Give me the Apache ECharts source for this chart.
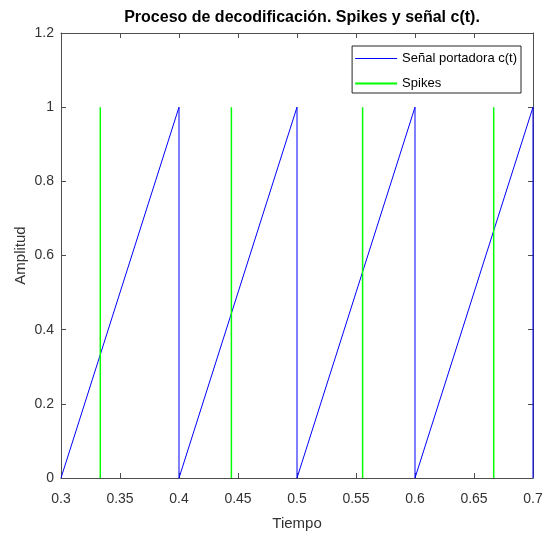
<!DOCTYPE html>
<html>
<head>
<meta charset="utf-8">
<script src="https://cdn.jsdelivr.net/npm/echarts@6/dist/echarts.min.js"></script>
<style>
    html, body {margin: 0; padding: 0; background: #fff;}
    #chart {width: 555px; height: 534px;}
</style>
</head>
<body>
<div id="chart"></div>
<script>
    // señal portadora (diente de sierra)
    const tiempo = [0.3, 0.4, 0.4, 0.5, 0.5, 0.6, 0.6, 0.7, 0.7];
    const portadora = [0, 1, 0, 1, 0, 1, 0, 1, 0];
    // instantes de los spikes y su altura
    const spikeTimes = [0.3333, 0.4444, 0.5556, 0.6667];
    const spikeHeight = 1;
    const xTicks = [0.3, 0.35, 0.4, 0.45, 0.5, 0.55, 0.6, 0.65, 0.7];
    const yTicks = [0, 0.2, 0.4, 0.6, 0.8, 1, 1.2];

    const chart = echarts.init(document.getElementById('chart'));

    const carrierData = tiempo.map((t, i) => [t, portadora[i]]);
    const spikeData = [];
    spikeTimes.forEach(function (t) {
        spikeData.push([t, 0], [t, spikeHeight], [t, '-']);
    });

    const font = 'Liberation Sans, Arial, Helvetica, sans-serif';
    const axisColor = '#4d4d4d';
    const textColor = '#333333';

    const baseX = {
        type: 'value',
        min: xTicks[0],
        max: xTicks[xTicks.length - 1],
        interval: 0.05,
        axisLine: {onZero: false, lineStyle: {color: axisColor, width: 1}},
        axisTick: {inside: true, length: 5, lineStyle: {color: axisColor}},
        splitLine: {show: false}
    };
    const baseY = {
        type: 'value',
        min: yTicks[0],
        max: yTicks[yTicks.length - 1],
        interval: 0.2,
        axisLine: {show: true, onZero: false, lineStyle: {color: axisColor, width: 1}},
        axisTick: {show: true, inside: true, length: 5, lineStyle: {color: axisColor}},
        splitLine: {show: false}
    };

    const option = {
        animation: false,
        textStyle: {fontFamily: font},
        title: {
            text: 'Proceso de decodificación. Spikes y señal c(t).',
            left: 297,
            textAlign: 'center',
            top: 5,
            textStyle: {fontSize: 16, fontWeight: 'bold', color: '#000', fontFamily: font}
        },
        legend: {
            orient: 'vertical',
            right: 34,
            top: 46,
            backgroundColor: '#fff',
            borderColor: '#262626',
            borderWidth: 1,
            borderRadius: 0,
            padding: [6, 4, 3, 3],
            itemGap: 12,
            itemWidth: 42,
            itemHeight: 12,
            textStyle: {fontSize: 13, color: '#000', fontFamily: font},
            data: [
                {name: 'Señal portadora c(t)', icon: 'path://M0,5.5 L42,5.5 L42,6.5 L0,6.5 Z'},
                {name: 'Spikes', icon: 'path://M0,5 L42,5 L42,7 L0,7 Z'}
            ]
        },
        grid: {left: 61, right: 22, top: 33, bottom: 56, outerBoundsMode: 'none'},
        xAxis: [
            Object.assign({}, baseX, {
                position: 'bottom',
                name: 'Tiempo',
                nameLocation: 'middle',
                nameGap: 38,
                nameMoveOverlap: false,
                nameTextStyle: {fontSize: 15, color: textColor},
                axisLabel: {margin: 14, fontSize: 14, color: textColor}
            }),
            Object.assign({}, baseX, {
                position: 'top',
                axisLabel: {show: false}
            })
        ],
        yAxis: [
            Object.assign({}, baseY, {
                position: 'left',
                name: 'Amplitud',
                nameLocation: 'middle',
                nameGap: 33,
                nameMoveOverlap: false,
                nameTextStyle: {fontSize: 15, color: textColor},
                axisLabel: {margin: 7, fontSize: 14, color: textColor}
            }),
            Object.assign({}, baseY, {
                position: 'right',
                axisLabel: {show: false}
            })
        ],
        series: [
            {
                name: 'Señal portadora c(t)',
                type: 'line',
                data: carrierData,
                showSymbol: false,
                symbol: 'none',
                lineStyle: {color: '#0000ff', width: 1},
                itemStyle: {color: '#0000ff'}
            },
            {
                name: 'Spikes',
                type: 'line',
                data: spikeData,
                connectNulls: false,
                showSymbol: false,
                symbol: 'none',
                lineStyle: {color: '#00ff00', width: 1.5},
                itemStyle: {color: '#00ff00'}
            }
        ]
    };

    chart.setOption(option);
</script>
</body>
</html>
